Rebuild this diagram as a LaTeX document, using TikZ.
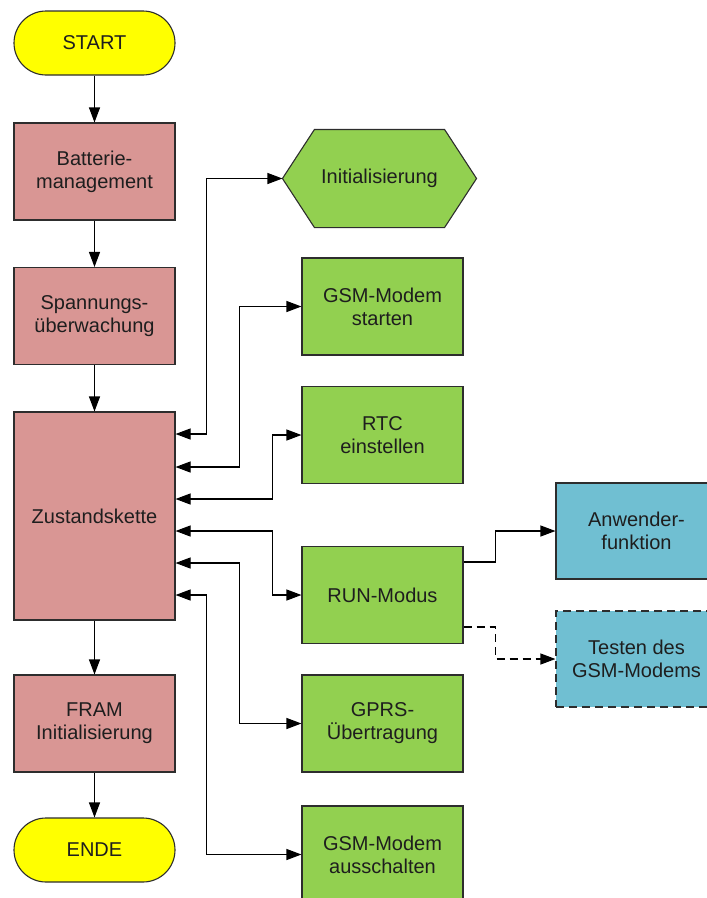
\documentclass[tikz,border=0pt]{standalone}
\usepackage{fontspec}
\setmainfont{Liberation Sans}
\usetikzlibrary{arrows.meta,backgrounds}
\definecolor{startyellow}{RGB}{255,255,0}
\definecolor{mainrose}{RGB}{217,150,148}
\definecolor{taskgreen}{RGB}{146,208,80}
\definecolor{appblue}{RGB}{112,191,210}
\definecolor{edgegray}{RGB}{45,45,45}
\definecolor{labeltext}{RGB}{30,30,30}
\tikzset{
  base/.style={draw=edgegray, line width=1.1pt, inner sep=0pt, align=center,
    text=labeltext, font=\fontsize{20}{23}\selectfont},
  terminal/.style={base, fill=startyellow, minimum width=161pt, minimum height=64pt, rounded corners=32pt},
  mainbox/.style={base, fill=mainrose, minimum width=161pt, minimum height=97pt},
  taskbox/.style={base, fill=taskgreen, minimum width=161pt, minimum height=97pt},
  appbox/.style={base, fill=appblue, minimum width=161pt, minimum height=96pt},
  flow/.style={draw=black, line width=1.1pt, -{Triangle[length=15pt,width=11pt]}},
  link/.style={draw=black, line width=1.1pt, {Triangle[length=15pt,width=11pt]}-{Triangle[length=15pt,width=11pt]}},
  dashlink/.style={flow, dash pattern=on 8pt off 5pt}
}
\begin{document}
\begin{tikzpicture}[x=1pt,y=-1pt]
\useasboundingbox (0,0) rectangle (707,898);
\clip (0,0) rectangle (707,898);

% left column
\node[terminal] (start) at (94.5,43) {START};
\node[mainbox] (batt) at (94.5,171.5) {Batterie-\\management};
\node[mainbox] (spann) at (94.5,316) {Spannungs-\\überwachung};
\node[mainbox, minimum height=208pt] (zust) at (94.5,516) {Zustandskette};
\node[mainbox] (fram) at (94.5,723.5) {FRAM\\Initialisierung};
\node[terminal] (ende) at (94.5,850) {ENDE};

% hexagon for the initialisation step
\node[base, draw=none, minimum width=193pt, minimum height=97pt] (init) at (379.5,178.5) {Initialisierung};
\begin{scope}[on background layer]
  \draw[draw=edgegray, line width=1.1pt, fill=taskgreen]
    (init.west) -- ([xshift=32pt]init.north west) -- ([xshift=-32pt]init.north east)
    -- (init.east) -- ([xshift=-32pt]init.south east) -- ([xshift=32pt]init.south west) -- cycle;
\end{scope}

% state tasks
\node[taskbox] (gsmon) at (382.5,306.5) {GSM-Modem\\starten};
\node[taskbox] (rtc) at (382.5,435) {RTC\\einstellen};
\node[taskbox] (run) at (382.5,595) {RUN-Modus};
\node[taskbox] (gprs) at (382.5,723.5) {GPRS-\\Übertragung};
\node[taskbox] (gsmoff) at (382.5,854.5) {GSM-Modem\\ausschalten};

% run mode functions
\node[appbox] (anw) at (636.5,531) {Anwender-\\funktion};
\node[appbox, dash pattern=on 8pt off 5pt] (test) at (636.5,659) {Testen des\\GSM-Modems};

% main sequence
\draw[flow] (start) -- (batt);
\draw[flow] (batt) -- (spann);
\draw[flow] (spann) -- (zust);
\draw[flow] (zust) -- (fram);
\draw[flow] (fram) -- (ende);

% state chain connections
\draw[link] ([yshift=82pt]zust.east) -- ++(31,0) |- (init.west);
\draw[link] ([yshift=49pt]zust.east) -- ++(64,0) |- (gsmon.west);
\draw[link] ([yshift=17pt]zust.east) -- ++(96.5,0) |- (rtc.west);
\draw[link] ([yshift=-15pt]zust.east) -- ++(96.5,0) |- (run.west);
\draw[link] ([yshift=-47pt]zust.east) -- ++(64,0) |- (gprs.west);
\draw[link] ([yshift=-79pt]zust.east) -- ++(31,0) |- (gsmoff.west);

% RUN mode branches
\draw[flow] ([yshift=33pt]run.east) -- ++(32,0) |- (anw.west);
\draw[dashlink] ([yshift=-32pt]run.east) -- ++(32,0) |- (test.west);
\end{tikzpicture}
\end{document}
